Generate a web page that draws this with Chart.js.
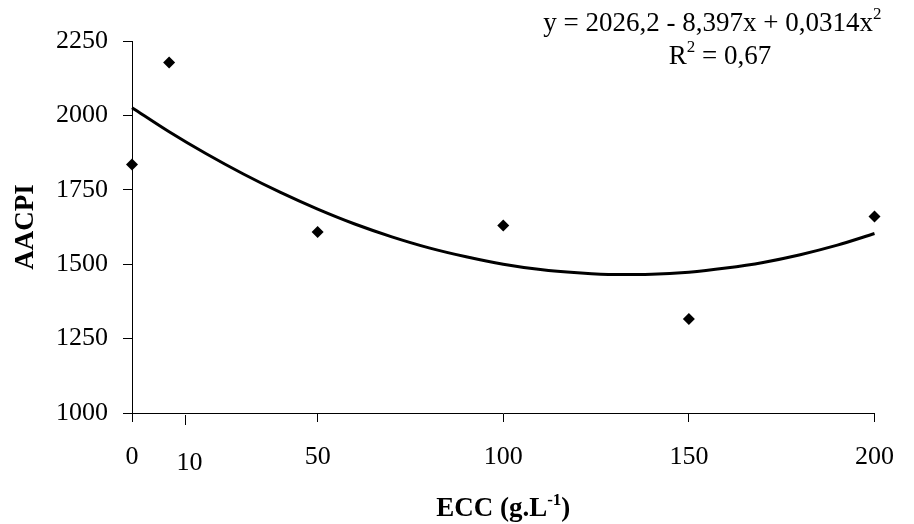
<!DOCTYPE html>
<html>
<head>
<meta charset="utf-8">
<script src="https://cdn.jsdelivr.net/npm/chart.js@4"></script>
<style>
  html, body { margin: 0; padding: 0; background: #fff; }
  #wrap { width: 914px; height: 524px; }
</style>
</head>
<body>
<div id="wrap"><canvas id="c" width="914" height="524"></canvas></div>
<script>
// Observed data
const ecc = [0, 10, 50, 100, 150, 200];
const aacpi = [1835, 2178, 1608, 1630, 1316, 1660];

// Trendline
const trendX = [0, 10, 20, 30, 40, 50, 60, 70, 80, 90, 100, 110, 120, 130, 140, 150, 160, 170, 180, 190, 200];
const trendY = [2026, 1945, 1871, 1803, 1741, 1685, 1635, 1592, 1555, 1525, 1500, 1482, 1471, 1465, 1466, 1473, 1487, 1506, 1532, 1564, 1603];

const xTicks = [0, 50, 100, 150, 200];
const yTicks = [1000, 1250, 1500, 1750, 2000, 2250];
const extraTick = { value: 14.4, label: '10' };

const eqLine1 = 'y = 2026,2 - 8,397x + 0,0314x';
const eqLine2 = 'R';
const eqLine2b = ' = 0,67';

const SERIF = '"Liberation Serif", "Times New Roman", serif';
const EQ_SIZE = 27;

const annot = {
  id: 'annot',
  afterDraw(chart) {
    const ctx = chart.ctx;
    const xs = chart.scales.x;
    const ca = chart.chartArea;
    ctx.save();
    ctx.fillStyle = '#000';
    ctx.strokeStyle = '#000';

    // extra "10" tick (slightly lower)
    const px = Math.round(xs.getPixelForValue(extraTick.value)) + 0.5;
    ctx.lineWidth = 1;
    ctx.beginPath();
    ctx.moveTo(px, ca.bottom + 2);
    ctx.lineTo(px, ca.bottom + 12);
    ctx.stroke();
    ctx.font = '26px ' + SERIF;
    ctx.textAlign = 'center';
    ctx.textBaseline = 'alphabetic';
    ctx.fillText(extraTick.label, px + 4, ca.bottom + 57);

    // Y title
    ctx.save();
    ctx.font = 'bold 27px ' + SERIF;
    ctx.translate(33, (ca.top + ca.bottom) / 2);
    ctx.rotate(-Math.PI / 2);
    ctx.textAlign = 'center';
    ctx.fillText('AACPI', 0, 0);
    ctx.restore();

    // X title with superscript
    ctx.font = 'bold 27px ' + SERIF;
    ctx.textAlign = 'left';
    const t1 = 'ECC (g.L', sup = '-1', t2 = ')';
    const supFont = 'bold 17px ' + SERIF;
    const w1 = ctx.measureText(t1).width;
    const w3 = ctx.measureText(t2).width;
    ctx.font = supFont;
    const w2 = ctx.measureText(sup).width;
    const total = w1 + w2 + w3;
    let x0 = (ca.left + ca.right) / 2 - total / 2;
    const by = 516;
    ctx.font = 'bold 27px ' + SERIF;
    ctx.fillText(t1, x0, by);
    ctx.font = supFont;
    ctx.fillText(sup, x0 + w1, by - 11);
    ctx.font = 'bold 27px ' + SERIF;
    ctx.fillText(t2, x0 + w1 + w2, by);

    // Equation
    const mainF = EQ_SIZE + 'px ' + SERIF;
    const supF = Math.round(EQ_SIZE * 0.64) + 'px ' + SERIF;
    ctx.font = mainF;
    const rightEdge = ca.right + 7;
    const e1w = ctx.measureText(eqLine1).width;
    ctx.font = supF;
    const s2w = ctx.measureText('2').width;
    let ex = rightEdge - e1w - s2w;
    ctx.font = mainF;
    ctx.fillText(eqLine1, ex, 31);
    ctx.font = supF;
    ctx.fillText('2', ex + e1w, 19);

    ctx.font = mainF;
    const rw = ctx.measureText(eqLine2).width;
    const r2w = ctx.measureText(eqLine2b).width;
    const line2w = rw + s2w + r2w;
    const cx = 720;
    let lx = cx - line2w / 2;
    ctx.fillText(eqLine2, lx, 64);
    ctx.font = supF;
    ctx.fillText('2', lx + rw, 52);
    ctx.font = mainF;
    ctx.fillText(eqLine2b, lx + rw + s2w, 64);

    ctx.restore();
  }
};

new Chart(document.getElementById('c'), {
  type: 'scatter',
  data: {
    datasets: [
      {
        label: 'AACPI',
        data: ecc.map((x, i) => ({ x, y: aacpi[i] })),
        pointStyle: 'rectRot',
        pointRadius: 6,
        pointHoverRadius: 6,
        backgroundColor: '#000',
        borderColor: '#000',
        borderWidth: 0,
        showLine: false,
        clip: false,
        order: 1
      },
      {
        label: 'Trend',
        data: trendX.map((x, i) => ({ x, y: trendY[i] })),
        showLine: true,
        pointRadius: 0,
        borderColor: '#000',
        borderWidth: 3,
        fill: false,
        cubicInterpolationMode: 'monotone',
        clip: false,
        order: 2
      }
    ]
  },
  options: {
    responsive: false,
    animation: false,
    events: [],
    layout: { padding: { left: 0, right: 24, top: 41, bottom: 40 } },
    plugins: { legend: { display: false }, tooltip: { enabled: false } },
    scales: {
      x: {
        type: 'linear',
        min: 0, max: 200,
        afterBuildTicks(s) { s.ticks = xTicks.map(v => ({ value: v })); },
        afterFit(s) { s.height = 524 - 413 - 40; },
        grid: { drawOnChartArea: false, tickLength: 9, color: '#000', lineWidth: 1 },
        border: { color: '#000', width: 1 },
        ticks: { color: '#000', padding: 20, maxRotation: 0, autoSkip: false,
          callback: v => String(v),
          font: { family: SERIF, size: 26 } }
      },
      y: {
        type: 'linear',
        min: 1000, max: 2250,
        afterBuildTicks(s) { s.ticks = yTicks.map(v => ({ value: v })); },
        afterFit(s) { s.width = 132; },
        grid: { drawOnChartArea: false, tickLength: 9, color: '#000', lineWidth: 1 },
        border: { color: '#000', width: 1 },
        ticks: { color: '#000', padding: 15, autoSkip: false,
          callback: v => String(v),
          font: { family: SERIF, size: 26 } }
      }
    }
  },
  plugins: [annot]
});
</script>
</body>
</html>
